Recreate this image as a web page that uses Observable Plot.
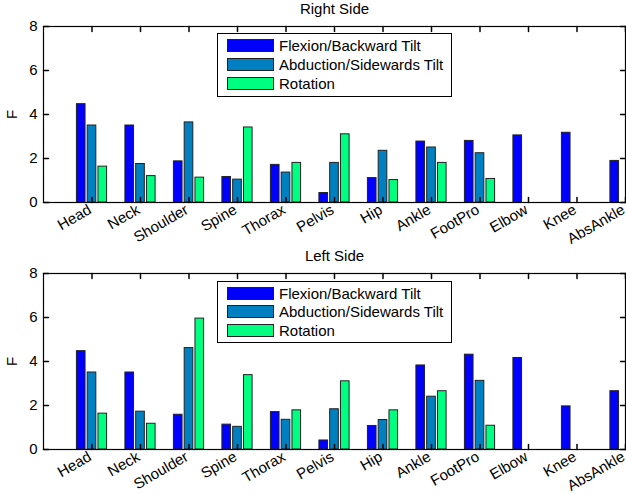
<!DOCTYPE html>
<html><head><meta charset="utf-8">
<script src="https://cdn.jsdelivr.net/npm/d3@7"></script>
<script src="https://cdn.jsdelivr.net/npm/@observablehq/plot@0.6"></script>
<style>
body{margin:0;background:#fff;font-family:"Liberation Sans",Arial,Helvetica,sans-serif;}
#wrap{position:relative;width:626px;height:494px;overflow:hidden;}
.panel{position:relative;width:626px;height:247px;}
.panel svg{display:block;font-family:"Liberation Sans",Arial,Helvetica,sans-serif;overflow:visible;}
.legend{position:absolute;left:217px;width:235px;border:1px solid #000;background:#fff;box-sizing:border-box;}
.legend .row{position:absolute;left:0;height:14px;}
.legend .sw{position:absolute;left:9px;top:0;width:47px;height:13px;border:1px solid #222;box-sizing:border-box;}
.legend .lab{position:absolute;left:61px;top:-2px;font-size:15px;white-space:nowrap;color:#000;line-height:17px;}
</style></head><body>
<div id="wrap"></div>
<script>
const categories = ["Head","Neck","Shoulder","Spine","Thorax","Pelvis","Hip","Ankle","FootPro","Elbow","Knee","AbsAnkle"];
const seriesNames = ["Flexion/Backward Tilt","Abduction/Sidewards Tilt","Rotation"];
const rightFlexion   = [4.47,3.50,1.87,1.16,1.71,0.43,1.11,2.77,2.80,3.05,3.17,1.89];
const rightAbduction = [3.50,1.75,3.64,1.04,1.36,1.80,2.35,2.50,2.24,0,0,0];
const rightRotation  = [1.63,1.20,1.13,3.41,1.80,3.10,1.02,1.80,1.07,0,0,0];
const leftFlexion    = [4.47,3.50,1.58,1.13,1.70,0.41,1.07,3.82,4.31,4.16,1.96,2.65];
const leftAbduction  = [3.50,1.72,4.61,1.03,1.35,1.83,1.34,2.40,3.12,0,0,0];
const leftRotation   = [1.63,1.17,5.95,3.38,1.78,3.10,1.78,2.65,1.08,0,0,0];
const yTicks = [0,2,4,6,8];
const colors = ["#0000ff","#0080c0","#00ff80"];

const positions = categories.map((c,i)=>i+1);
const groupStep = 0.2222, barW = 0.178;
const tickShape = {draw(ctx, l){ ctx.moveTo(0,0); ctx.lineTo(0,-l); }};

function panel(title, seriesArrays, legendTop, legendH, rowTops){
  const rows = [];
  seriesArrays.forEach((arr,s)=>arr.forEach((v,i)=>{
    const c = positions[i] + (s-1)*groupStep;
    rows.push({cat: categories[i], s, x1: c - barW/2, x2: c + barW/2, v});
  }));
  const svg = Plot.plot({
    width: 626, height: 247,
    marginLeft: 43, marginRight: 1, marginTop: 26, marginBottom: 45,
    style: {fontSize: "15px", fontFamily: '"Liberation Sans",Arial,sans-serif', background: "#fff", color: "#000", overflow: "visible"},
    x: {type: "linear", domain: [0, 12]},
    y: {domain: [0, 8]},
    marks: [
      Plot.rectY(rows, {x1: "x1", x2: "x2", y: "v", fill: d=>colors[d.s], stroke: "#222", strokeWidth: 1}),
      Plot.frame({stroke: "#000", strokeWidth: 1.2}),
      Plot.vector(positions, {x: d=>d, y: 8, length: 5, rotate: 180, anchor: "start", shape: tickShape, stroke: "#000"}),
      Plot.vector(positions, {x: d=>d, y: 0, length: 5, rotate: 0, anchor: "start", shape: tickShape, stroke: "#000"}),
      Plot.vector(yTicks, {x: 0, y: d=>d, length: 5, rotate: 90, anchor: "start", shape: tickShape, stroke: "#000"}),
      Plot.vector(yTicks, {x: 12, y: d=>d, length: 5, rotate: -90, anchor: "start", shape: tickShape, stroke: "#000"}),
      Plot.axisY(yTicks, {anchor: "left", tickSize: 0, tickPadding: 6, label: null, fontSize: 15}),
      Plot.axisX(positions, {anchor: "bottom", tickSize: 0, tickPadding: 6, dx: -2, tickRotate: -30, tickFormat: d=>categories[d-1], label: null, fontSize: 15}),
      Plot.text([title], {frameAnchor: "top", lineAnchor: "middle", dy: -17, text: d=>d, fontSize: 15}),
      Plot.text(["F"], {frameAnchor: "left", textAnchor: "middle", lineAnchor: "middle", dx: -31, rotate: -90, text: d=>d, fontSize: 15})
    ]
  });
  const div = document.createElement("div");
  div.className = "panel";
  div.appendChild(svg);
  const lg = document.createElement("div");
  lg.className = "legend";
  lg.style.top = legendTop + "px";
  lg.style.height = legendH + "px";
  seriesNames.forEach((n,s)=>{
    const row = document.createElement("div");
    row.className = "row";
    row.style.top = rowTops[s] + "px";
    const sw = document.createElement("div"); sw.className = "sw"; sw.style.background = colors[s];
    const lab = document.createElement("div"); lab.className = "lab"; lab.textContent = n;
    row.appendChild(sw); row.appendChild(lab);
    lg.appendChild(row);
  });
  div.appendChild(lg);
  return div;
}
const wrap = document.getElementById("wrap");
wrap.appendChild(panel("Right Side", [rightFlexion, rightAbduction, rightRotation], 33, 64, [5, 24, 43]));
wrap.appendChild(panel("Left Side", [leftFlexion, leftAbduction, leftRotation], 34, 62, [5, 23, 42]));
</script>
</body></html>
